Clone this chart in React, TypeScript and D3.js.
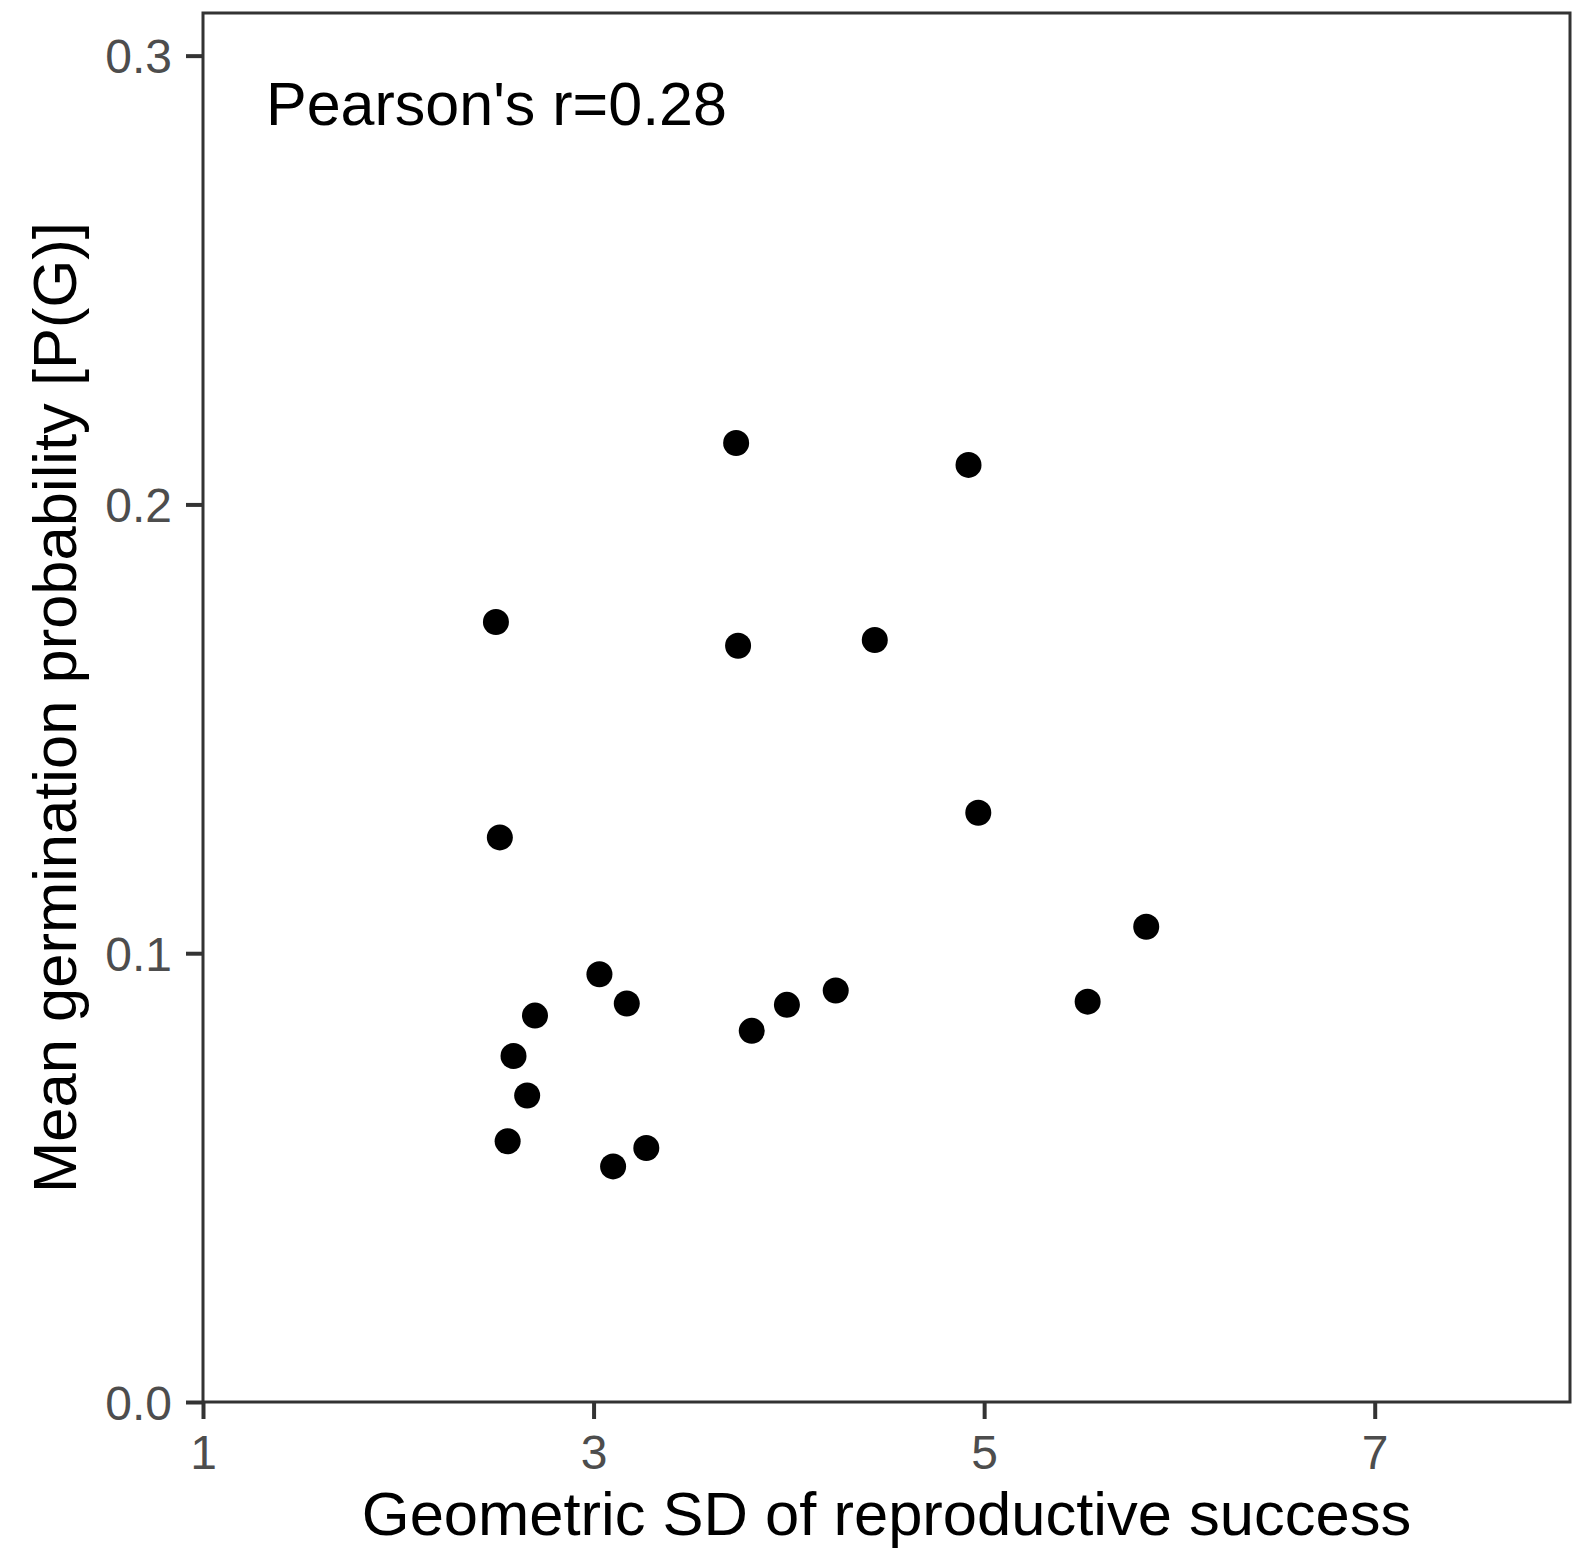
import { useEffect, useRef } from 'react';
import * as d3 from 'd3';

// geometric SD of reproductive success (x) and mean germination probability (y)
const sdValues = [
  3.73, 4.92, 2.50, 3.74, 4.44, 4.97, 2.52, 5.83, 3.03, 3.17,
  2.70, 2.59, 2.66, 2.56, 3.10, 3.27, 3.81, 3.99, 4.24, 5.53,
];
const germValues = [
  0.2137, 0.2088, 0.1738, 0.1685, 0.1698, 0.1313, 0.1258, 0.1059, 0.0953, 0.0888,
  0.0861, 0.0771, 0.0683, 0.0581, 0.0525, 0.0566, 0.0827, 0.0885, 0.0917, 0.0892,
];

const xTicks = [1, 3, 5, 7];
const yTicks = [0, 0.1, 0.2, 0.3];
const xLabel = 'Geometric SD of reproductive success';
const yLabel = 'Mean germination probability [P(G)]';
const annotation = "Pearson's r=0.28";

export default function App() {
  const svgRef = useRef<SVGSVGElement>(null);

  useEffect(() => {
    const width = 1585;
    const height = 1557;
    const margin = { top: 13, right: 15, bottom: 155, left: 203 };
    const font = '"Liberation Sans", Arial, Helvetica, sans-serif';

    const svg = d3.select(svgRef.current);
    svg.selectAll('*').remove();
    svg.attr('width', width).attr('height', height);

    const x = d3.scaleLinear().domain([1, 8]).range([margin.left, width - margin.right]);
    const y = d3.scaleLinear().domain([0, 0.3095]).range([height - margin.bottom, margin.top]);

    svg.append('rect')
      .attr('width', width)
      .attr('height', height)
      .attr('fill', 'white');

    // axes (ticks only, the panel border acts as axis line)
    const xAxis = svg.append('g')
      .attr('transform', `translate(0,${y(0)})`)
      .call(d3.axisBottom(x).tickValues(xTicks).tickSize(17).tickPadding(15).tickFormat(d3.format('d')));
    const yAxis = svg.append('g')
      .attr('transform', `translate(${x(1)},0)`)
      .call(d3.axisLeft(y).tickValues(yTicks).tickSize(17).tickPadding(14).tickFormat(d3.format('.1f')));

    [xAxis, yAxis].forEach(ax => {
      ax.select('.domain').remove();
      ax.selectAll('line').attr('stroke', '#333333').attr('stroke-width', 4);
      ax.selectAll('text')
        .attr('fill', '#4D4D4D')
        .style('font-family', font)
        .style('font-size', '48px');
    });
    yAxis.selectAll('text').attr('dy', '0.36em');
    xAxis.selectAll('text').attr('dy', '0.72em');

    // points
    svg.append('g')
      .selectAll('circle')
      .data(sdValues.map((v, i) => [v, germValues[i]]))
      .join('circle')
      .attr('cx', d => x(d[0]))
      .attr('cy', d => y(d[1]))
      .attr('r', 13)
      .attr('fill', 'black');

    // panel border
    svg.append('rect')
      .attr('x', x(1))
      .attr('y', y(0.3095))
      .attr('width', x(8) - x(1))
      .attr('height', y(0) - y(0.3095))
      .attr('fill', 'none')
      .attr('stroke', '#333333')
      .attr('stroke-width', 3);

    svg.append('text')
      .attr('x', 266)
      .attr('y', 125)
      .style('font-family', font)
      .style('font-size', '61px')
      .attr('fill', 'black')
      .text(annotation);

    svg.append('text')
      .attr('x', (x(1) + x(8)) / 2)
      .attr('y', 1535)
      .attr('text-anchor', 'middle')
      .style('font-family', font)
      .style('font-size', '61.5px')
      .attr('fill', 'black')
      .text(xLabel);

    svg.append('text')
      .attr('transform', `translate(76,${(y(0) + y(0.3095)) / 2}) rotate(-90)`)
      .attr('text-anchor', 'middle')
      .style('font-family', font)
      .style('font-size', '61.5px')
      .attr('fill', 'black')
      .text(yLabel);
  }, []);

  return (
    <svg ref={svgRef} style={{ position: 'absolute', left: 0, top: 0, display: 'block' }} />
  );
}
